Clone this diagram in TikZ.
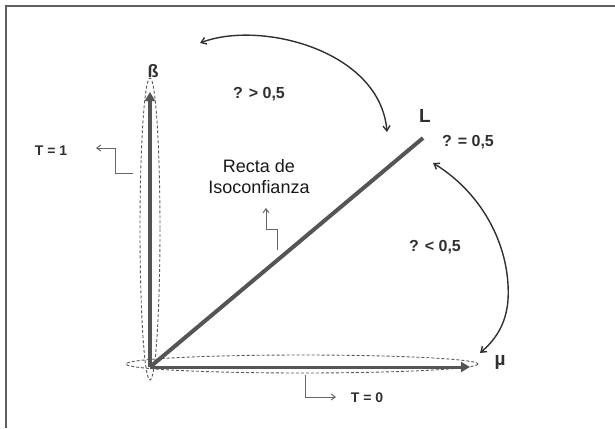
\documentclass[tikz,border=0pt]{standalone}
\usepackage{fontspec}
\setmainfont{Liberation Sans}
\usepackage{xcolor}
\usepackage{tikz}
\usetikzlibrary{arrows.meta}

\definecolor{axisgray}{HTML}{555555}
\definecolor{inkgray}{HTML}{303030}

\begin{document}
\begin{tikzpicture}[
  x=1pt, y=-1pt,
  axis/.style={draw=axisgray, line width=4pt, -{Triangle[length=9pt,width=10pt]}},
  ring/.style={draw=gray!70!black, dash pattern=on 3pt off 2pt, line width=0.9pt},
  swing/.style={draw=inkgray, line width=1.4pt, {Straight Barb[length=5pt,width=7pt]}-{Straight Barb[length=5pt,width=7pt]}},
  pointer/.style={draw=gray!80!black, line width=1pt, -{Straight Barb[length=4pt,width=6pt]}},
  tag/.style={font=\bfseries\fontsize{16}{18}\selectfont, text=inkgray, inner sep=1pt},
  note/.style={font=\fontsize{18}{21}\selectfont, text=black!90, align=center, inner sep=1pt},
  >=stealth
]
  \useasboundingbox (0,0) rectangle (615,428);
  % frame
  \draw[gray!75!black, line width=2pt] (6,428) -- (6,6) -- (615,6);

  % axes
  \coordinate (O) at (150,367);
  \coordinate (B) at (150,92);
  \coordinate (M) at (470,367);
  \coordinate (L) at (423,138);
  \draw[ring] (150,229) ellipse (10 and 151);
  \draw[ring] (302,364) ellipse (176 and 9);
  \draw[axis] (O) -- (B);
  \draw[axis, line width=3pt] (O) -- (M);
  \draw[draw=axisgray, line width=4pt] (O) -- (L);

  % labels
  \node[tag, font=\bfseries\fontsize{18}{20}\selectfont] (beta) at (153,71) {ß};
  \node[tag, font=\bfseries\fontsize{19}{21}\selectfont] (mu) at (500,362) {µ};
  \node[tag, font=\bfseries\fontsize{19}{21}\selectfont] (Lname) at (425,116) {L};
  \node[tag] (eq) at (468,142) {? = 0,5};
  \node[tag] (gt) at (259,94) {? > 0,5};
  \node[tag] (lt) at (435,247) {? < 0,5};
  \node[tag, font=\bfseries\fontsize{14}{16}\selectfont] (t1) at (51,151) {T = 1};
  \node[tag, font=\bfseries\fontsize{14}{16}\selectfont] (t0) at (367,398) {T = 0};
  \node[note] (recta) at (259,177) {Recta de\\Isoconfianza};

  % curved arrows between regions
  \coordinate (g1) at (200,43);
  \coordinate (g2) at (387,132);
  \coordinate (l1) at (433,163);
  \coordinate (l2) at (480,353);
  \draw[swing] (g1) .. controls (260,20) and (380,50) .. (g2);
  \draw[swing] (l1) .. controls (485,195) and (511,250) .. (508,300)
    .. controls (506,325) and (495,340) .. (l2);

  % pointers
  \coordinate (t1s) at (133,173);
  \coordinate (t1k) at (115,148);
  \coordinate (t1e) at (96,148);
  \draw[pointer] (t1s) -| (t1k) -- (t1e);
  \coordinate (rs) at (277,250);
  \coordinate (rk) at (266,229);
  \coordinate (re) at (266,208);
  \draw[pointer] (rs) |- (rk) -- (re);
  \coordinate (ts) at (305,375);
  \coordinate (te) at (336,397);
  \draw[pointer] (ts) |- (te);
\end{tikzpicture}
\end{document}
